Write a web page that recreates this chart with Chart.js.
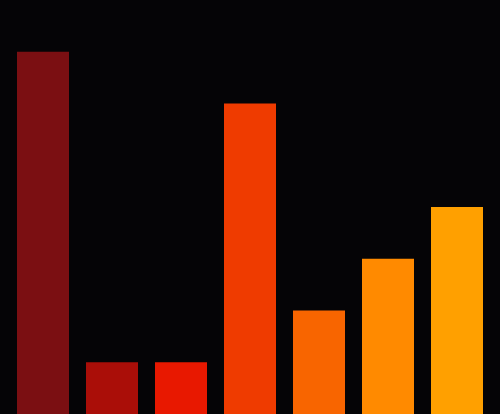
<!DOCTYPE html>
<html>
<head>
<meta charset="utf-8">
<script src="https://cdn.jsdelivr.net/npm/chart.js@4"></script>
<style>
html,body{margin:0;padding:0;background:#050406;overflow:hidden;}
#wrap{width:500px;height:414px;}
canvas{display:block;}
</style>
</head>
<body>
<div id="wrap"><canvas id="c" width="500" height="414"></canvas></div>
<script>
const categories = ["A","B","C","D","E","F","G"];
const values = [7, 1, 1, 6, 2, 3, 4];
const barColors = ["#7b0f12","#aa0e08","#e81800","#ef3b00","#f86500","#ff8a00","#ffa000"];

const bgPlugin = {
  id: 'bg',
  beforeDraw(chart) {
    const ctx = chart.ctx;
    ctx.save();
    ctx.fillStyle = '#050406';
    ctx.fillRect(0, 0, chart.width, chart.height);
    ctx.restore();
  }
};

new Chart(document.getElementById('c'), {
  type: 'bar',
  data: {
    labels: categories,
    datasets: [{
      data: values,
      backgroundColor: barColors,
      borderWidth: 0
    }]
  },
  options: {
    responsive: false,
    animation: false,
    devicePixelRatio: 1,
    layout: { padding: { left: 8.5, right: 8.5, top: 0, bottom: 0 } },
    plugins: { legend: { display: false }, tooltip: { enabled: false } },
    datasets: { bar: { categoryPercentage: 1, barPercentage: 52/69 } },
    scales: {
      x: { display: false, offset: true },
      y: { display: false, min: 0, max: 8 }
    }
  },
  plugins: [bgPlugin]
});
</script>
</body>
</html>
